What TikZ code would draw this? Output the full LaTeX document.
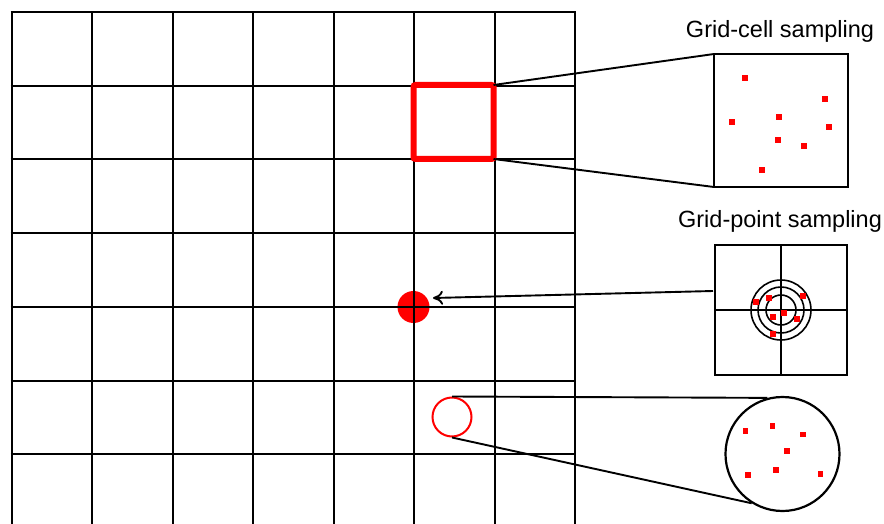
\documentclass[tikz,border=0pt]{standalone}
\usepackage{fontspec}
\setmainfont{Liberation Sans}
\usetikzlibrary{arrows.meta,calc}
\tikzset{
  gridline/.style={line width=2pt, black},
  boxed/.style={draw=black, line width=2pt, minimum width=#1, inner sep=0pt, outer sep=0pt},
  conn/.style={line width=1.9pt, black},
  reddot/.style={fill=red},
  title/.style={font=\fontsize{23.5}{27}\selectfont, anchor=base, inner sep=0pt}
}
\newcommand{\rdot}[2]{\fill[reddot] (#1-2.6,#2-2.6) rectangle (#1+2.6,#2+2.6);}
\begin{document}
\begin{tikzpicture}[x=1pt,y=-1pt]
\useasboundingbox[fill=white] (0,0) rectangle (884,524);
\begin{scope}
\clip (0,0) rectangle (884,524);
% grid
\foreach \i in {0,...,7} {
  \draw[gridline] ({11.5+80.5*\i},12) -- ({11.5+80.5*\i},530);
}
\foreach \j in {0,...,6} {
  \draw[gridline] (10.5,{12+73.7*\j}) -- (576,{12+73.7*\j});
}
\end{scope}

% grid-cell sampling
\node[draw=red, line width=6pt, rounded corners=2pt, minimum width=80pt, minimum height=74pt, inner sep=0pt, outer sep=0pt] (rsq) at (453.5,122) {};
\node[boxed=134pt, minimum height=133pt] (cellbox) at (781,120.5) {};
\draw[conn] (rsq.north east) -- (cellbox.north west);
\draw[conn] (rsq.south east) -- (cellbox.south west);
\node[title] (t1) at (780,37.7) {Grid-cell sampling};
\rdot{745}{78}
\rdot{825}{99}
\rdot{732}{122}
\rdot{779}{117}
\rdot{829}{127}
\rdot{778}{140}
\rdot{804}{146}
\rdot{762}{170}

% grid-point sampling
\node[boxed=132pt, minimum height=130pt] (gpbox) at (781,310) {};
\draw[line width=1.6pt] (gpbox.north) -- (gpbox.south);
\draw[line width=1.6pt] (gpbox.west) -- (gpbox.east);
\node[draw, circle, line width=1.6pt, minimum size=60pt, inner sep=0pt] (c1) at (gpbox.center) {};
\node[draw, circle, line width=1.6pt, minimum size=46pt, inner sep=0pt] (c2) at (gpbox.center) {};
\node[draw, circle, line width=1.6pt, minimum size=30pt, inner sep=0pt] (c3) at (gpbox.center) {};
\node[title] (t2) at (780,227) {Grid-point sampling};
\rdot{756}{302}
\rdot{769}{298}
\rdot{803}{296}
\rdot{784}{313}
\rdot{773}{317}
\rdot{797}{319}
\rdot{773}{334}
\node[circle, fill=red, minimum size=32pt, inner sep=0pt] (rpt) at (413.5,307) {};
\draw[gridline] (rpt.north) -- (rpt.south);
\draw[gridline] (rpt.west) -- (rpt.east);
\coordinate (arrstart) at (713,291);
\coordinate (arrtip) at (433,298);
\draw[conn, -{To[length=10pt, width=14pt, line width=1.9pt]}] (arrstart) -- (arrtip);

% circular sampling
\node[draw=red, circle, line width=2pt, minimum size=39pt, inner sep=0pt] (rc) at (452,417) {};
\node[draw=black, circle, line width=2.2pt, minimum size=114pt, inner sep=0pt] (bc) at (782.5,454) {};
\draw[conn] (rc.north) -- (bc.105.5);
\draw[conn] (rc.south) -- (bc.238.4);
\rdot{745.7}{431}
\rdot{772.7}{426}
\rdot{803}{434.7}
\rdot{787}{451}
\rdot{748}{475}
\rdot{776}{470}
\rdot{820.7}{474}
\end{tikzpicture}
\end{document}
